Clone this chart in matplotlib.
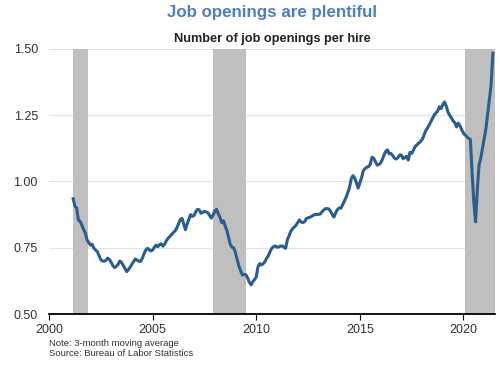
import matplotlib
matplotlib.use("Agg")
import matplotlib.pyplot as plt
import numpy as np

plt.rcParams['font.family'] = ['Liberation Sans', 'DejaVu Sans']

# Monthly values: Mar 2001 .. Jun 2021 (3-month moving average)
start_year, start_month = 2001, 3
values = [
    # 2001 Mar-Dec
    0.935, 0.907, 0.900, 0.855, 0.850, 0.836, 0.820, 0.806, 0.780, 0.770,
    # 2002
    0.760, 0.763, 0.748, 0.741, 0.735, 0.720, 0.705, 0.700, 0.699, 0.703, 0.711, 0.705,
    # 2003
    0.695, 0.682, 0.675, 0.680, 0.687, 0.700, 0.695, 0.683, 0.672, 0.660, 0.667, 0.677,
    # 2004
    0.688, 0.698, 0.708, 0.703, 0.700, 0.698, 0.710, 0.727, 0.741, 0.748, 0.742, 0.738,
    # 2005
    0.742, 0.752, 0.760, 0.754, 0.762, 0.765, 0.756, 0.764, 0.777, 0.786, 0.793, 0.800,
    # 2006
    0.807, 0.814, 0.825, 0.840, 0.856, 0.861, 0.840, 0.818, 0.840, 0.858, 0.875, 0.868,
    # 2007
    0.872, 0.886, 0.895, 0.893, 0.880, 0.884, 0.887, 0.885, 0.882, 0.872, 0.862, 0.874,
    # 2008
    0.888, 0.895, 0.878, 0.865, 0.845, 0.852, 0.832, 0.815, 0.788, 0.762, 0.752, 0.749,
    # 2009
    0.730, 0.705, 0.680, 0.662, 0.647, 0.650, 0.648, 0.636, 0.620, 0.610, 0.622, 0.630,
    # 2010
    0.640, 0.678, 0.690, 0.685, 0.690, 0.697, 0.710, 0.720, 0.735, 0.748, 0.754, 0.757,
    # 2011
    0.752, 0.753, 0.756, 0.757, 0.752, 0.748, 0.779, 0.795, 0.812, 0.822, 0.828, 0.835,
    # 2012
    0.845, 0.855, 0.847, 0.845, 0.848, 0.860, 0.863, 0.865, 0.868, 0.873, 0.875, 0.876,
    # 2013
    0.876, 0.877, 0.885, 0.892, 0.897, 0.898, 0.896, 0.888, 0.875, 0.866, 0.882, 0.894,
    # 2014
    0.900, 0.899, 0.912, 0.925, 0.940, 0.958, 0.978, 1.010, 1.022, 1.013, 0.995, 0.975,
    # 2015
    0.995, 1.015, 1.041, 1.048, 1.054, 1.056, 1.065, 1.091, 1.088, 1.075, 1.062, 1.064,
    # 2016
    1.070, 1.083, 1.100, 1.114, 1.119, 1.104, 1.106, 1.098, 1.088, 1.085, 1.090, 1.100,
    # 2017
    1.100, 1.086, 1.090, 1.095, 1.081, 1.110, 1.106, 1.118, 1.132, 1.138, 1.145, 1.150,
    # 2018
    1.158, 1.172, 1.190, 1.200, 1.212, 1.224, 1.238, 1.250, 1.259, 1.265, 1.282, 1.275,
    # 2019
    1.290, 1.300, 1.285, 1.262, 1.250, 1.240, 1.228, 1.222, 1.206, 1.220, 1.210, 1.195,
    # 2020
    1.182, 1.175, 1.168, 1.163, 1.158, 1.030, 0.920, 0.848, 0.970, 1.062, 1.088, 1.125,
    # 2021 Jan-Jun
    1.162, 1.200, 1.255, 1.310, 1.365, 1.484,
]

recessions = [(2001 + 2/12, 2001 + 10.6/12), (2007 + 11/12, 2009 + 6/12), (2020 + 1/12, 2021.52)]
yticks = [0.50, 0.75, 1.00, 1.25, 1.50]
xticks = [2000, 2005, 2010, 2015, 2020]

title = "Job openings are plentiful"
subtitle = "Number of job openings per hire"
note = "Note: 3-month moving average\nSource: Bureau of Labor Statistics"

dates = [start_year + (start_month - 1 + i) / 12 for i in range(len(values))]

fig = plt.figure(figsize=(5, 3.65), dpi=100)
ax = fig.add_axes([0.098, 0.1397, 0.892, 0.7261])

for a, b in recessions:
    ax.axvspan(a, b, color='#bfbfbf', lw=0, zorder=1)

ax.plot(dates, values, color='#2c5d8d', lw=2.2, zorder=3, solid_joinstyle='round')

ax.set_xlim(2000, 2021.52)
ax.set_ylim(0.5, 1.5)
ax.set_yticks(yticks)
ax.set_yticklabels([f"{v:.2f}" for v in yticks])
ax.set_xticks(xticks)
ax.grid(axis='y', color='#e3e3e3', lw=0.9, zorder=0)
ax.set_axisbelow(True)
for s in ['left', 'right', 'top']:
    ax.spines[s].set_visible(False)
ax.spines['bottom'].set_color('black')
ax.spines['bottom'].set_linewidth(1.3)
ax.spines['bottom'].set_zorder(4)
ax.tick_params(axis='y', length=0, labelsize=9, labelcolor='#333333', pad=8)
ax.tick_params(axis='x', length=4, width=0.8, labelsize=9, labelcolor='#333333', pad=3)

fig.text(0.544, 0.966, title, ha='center', va='center', fontsize=12.2,
         fontweight='bold', color='#4f7fbf')
fig.text(0.544, 0.893, subtitle, ha='center', va='center', fontsize=9.2,
         fontweight='bold', color='#222222')
fig.text(0.098, 0.045, note, ha='left', va='center', fontsize=6.8,
         color='#333333', linespacing=1.15)

fig.savefig('out.png', dpi=100)
